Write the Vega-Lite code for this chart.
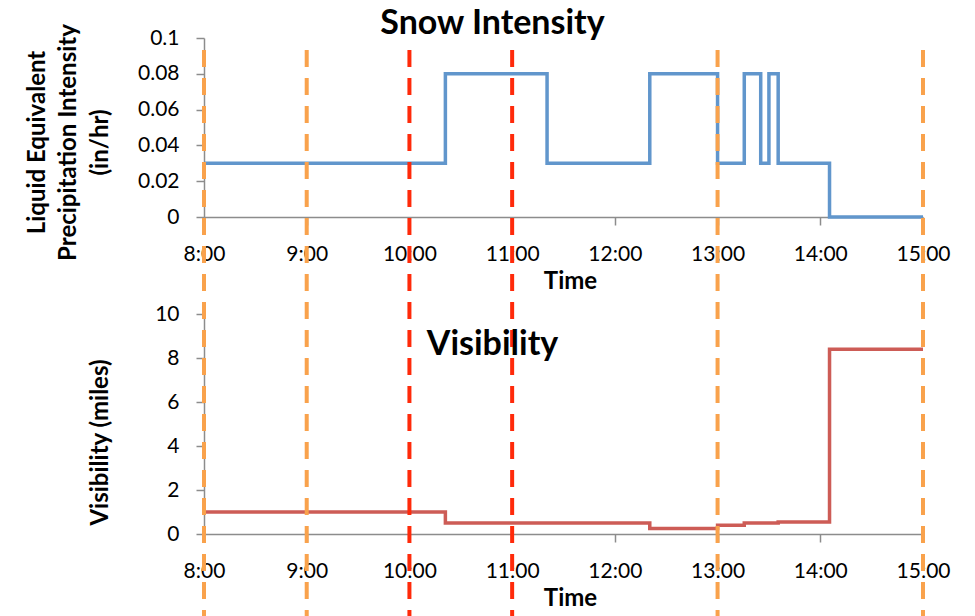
{
  "$schema": "https://vega.github.io/schema/vega-lite/v6.json",
  "background": "white",
  "padding": {"left": 25, "top": 6, "right": 5, "bottom": 0},
  "bounds": "flush",
  "spacing": 97,
  "config": {
    "view": {"stroke": null},
    "font": "Lato",
    "axis": {
      "grid": false,
      "domainColor": "#8c8c8c",
      "domainWidth": 1.5,
      "tickColor": "#8c8c8c",
      "tickSize": 8,
      "tickWidth": 1.5,
      "labelFont": "Lato",
      "labelFontSize": 21,
      "labelColor": "black",
      "labelFlush": false,
      "labelOverlap": false,
      "titleFont": "Lato",
      "titleFontSize": 24,
      "titleFontWeight": "bold",
      "titleColor": "black"
    }
  },
  "datasets": {
    "snow": [
      {"hour": 8.0, "intensity": 0.03},
      {"hour": 10.35, "intensity": 0.08},
      {"hour": 11.34, "intensity": 0.03},
      {"hour": 12.34, "intensity": 0.08},
      {"hour": 13.0, "intensity": 0.03},
      {"hour": 13.26, "intensity": 0.08},
      {"hour": 13.42, "intensity": 0.03},
      {"hour": 13.5, "intensity": 0.08},
      {"hour": 13.59, "intensity": 0.03},
      {"hour": 14.09, "intensity": 0.0},
      {"hour": 15.0, "intensity": 0.0}
    ],
    "vis": [
      {"hour": 8.0, "visibility": 1.0},
      {"hour": 10.35, "visibility": 0.5},
      {"hour": 12.34, "visibility": 0.25},
      {"hour": 13.0, "visibility": 0.4},
      {"hour": 13.26, "visibility": 0.5},
      {"hour": 13.59, "visibility": 0.55},
      {"hour": 14.09, "visibility": 8.4},
      {"hour": 15.0, "visibility": 8.4}
    ],
    "markers": [
      {"hour": 8, "kind": "boundary"},
      {"hour": 9, "kind": "boundary"},
      {"hour": 10, "kind": "event"},
      {"hour": 11, "kind": "event"},
      {"hour": 13, "kind": "boundary"},
      {"hour": 15, "kind": "boundary"}
    ]
  },
  "vconcat": [
    {
      "width": 719,
      "height": 179,
      "title": {
        "text": "Snow Intensity",
        "font": "Lato",
        "fontSize": 34,
        "fontWeight": "bold",
        "color": "black",
        "frame": "group",
        "anchor": "middle",
        "dx": -71,
        "baseline": "alphabetic",
        "offset": -44
      },
      "data": {"name": "snow"},
      "mark": {"type": "line", "interpolate": "step-after", "color": "#6196CC", "strokeWidth": 3.5},
      "encoding": {
        "x": {
          "field": "hour",
          "type": "quantitative",
          "scale": {"domain": [8, 15], "nice": false, "zero": false},
          "axis": {
            "values": [8, 9, 10, 11, 12, 13, 14, 15],
            "labelExpr": "datum.value + ':00'",
            "labelPadding": 18,
            "title": "Time",
            "titleX": 366,
            "titleY": 71,
            "titleBaseline": "alphabetic"
          }
        },
        "y": {
          "field": "intensity",
          "type": "quantitative",
          "scale": {"domain": [0, 0.1], "nice": false},
          "axis": {
            "values": [0, 0.02, 0.04, 0.06, 0.08, 0.1],
            "format": "~g",
            "labelPadding": 17,
            "title": ["Liquid Equivalent", "Precipitation Intensity", "(in/hr)"],
            "titleLineHeight": 31.5,
            "titleAngle": 270,
            "titleAlign": "center",
            "titleBaseline": "middle",
            "titleX": -167,
            "titleY": 104
          }
        }
      }
    },
    {
      "width": 719,
      "height": 220,
      "title": {
        "text": "Visibility",
        "font": "Lato",
        "fontSize": 34,
        "fontWeight": "bold",
        "color": "black",
        "frame": "group",
        "anchor": "middle",
        "dx": -71,
        "baseline": "alphabetic",
        "offset": -341
      },
      "layer": [
        {
          "data": {"name": "vis"},
          "mark": {"type": "line", "interpolate": "step-after", "color": "#CD5C56", "strokeWidth": 3.5},
          "encoding": {
            "x": {
              "field": "hour",
              "type": "quantitative",
              "scale": {"domain": [8, 15], "nice": false, "zero": false},
              "axis": {
                "values": [8, 9, 10, 11, 12, 13, 14, 15],
                "labelExpr": "datum.value + ':00'",
                "labelPadding": 18,
                "title": "Time",
                "titleX": 366,
                "titleY": 71,
                "titleBaseline": "alphabetic"
              }
            },
            "y": {
              "field": "visibility",
              "type": "quantitative",
              "scale": {"domain": [0, 10], "nice": false},
              "axis": {
                "values": [0, 2, 4, 6, 8, 10],
                "labelPadding": 17,
                "title": "Visibility (miles)",
                "titleAngle": 270,
                "titleAlign": "center",
                "titleBaseline": "middle",
                "titleX": -104,
                "titleY": 128
              }
            }
          }
        },
        {
          "data": {"name": "markers"},
          "mark": {"type": "rule", "strokeDash": [17, 11], "strokeWidth": 4},
          "encoding": {
            "x": {"field": "hour", "type": "quantitative"},
            "y": {"datum": 22.0},
            "y2": {"datum": -3.8},
            "color": {
              "field": "kind",
              "type": "nominal",
              "scale": {"domain": ["boundary", "event"], "range": ["#F9A24C", "#FF2A0A"]},
              "legend": null
            }
          }
        }
      ]
    }
  ]
}
